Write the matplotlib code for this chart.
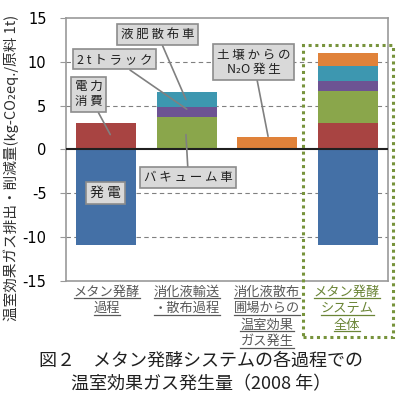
import matplotlib
matplotlib.use("Agg")
import matplotlib.pyplot as plt
from matplotlib.patches import Rectangle
from matplotlib.lines import Line2D
import numpy as np

plt.rcParams['font.family'] = ['Noto Sans CJK JP', 'DejaVu Sans']

# ---- data ----
categories = ["メタン発酵\n過程", "消化液輸送\n・散布過程", "消化液散布\n圃場からの\n温室効果\nガス発生", "メタン発酵\nシステム\n全体"]
series_names = ["発電", "電力消費", "バキューム車", "2tトラック", "液肥散布車", "土壌からのN2O発生"]
power_gen   = [-10.9, 0.0, 0.0, -10.9]
power_use   = [3.0, 0.0, 0.0, 3.0]
vacuum      = [0.0, 3.65, 0.0, 3.65]
truck2t     = [0.0, 1.2, 0.0, 1.2]
spreader    = [0.0, 1.7, 0.0, 1.7]
soil_n2o    = [0.0, 0.0, 1.45, 1.45]
yticks = [15, 10, 5, 0, -5, -10, -15]
colors = ["#4470A6", "#A84442", "#8AA64B", "#6D5393", "#3D97B0", "#E0823A"]

fig = plt.figure(figsize=(4.0, 3.96), dpi=100)
ax = fig.add_axes([0.165, 0.2904, 0.805, 0.6642])
x = np.arange(len(categories))
w = 0.75

ax.bar(x, power_gen, w, color=colors[0], zorder=2)
bottom = np.zeros(len(x))
for vals, c in zip([power_use, vacuum, truck2t, spreader, soil_n2o], colors[1:]):
    v = np.array(vals)
    ax.bar(x, v, w, bottom=bottom, color=c, zorder=2)
    bottom = bottom + v

ax.set_xlim(-0.5, 3.5)
ax.set_ylim(-15, 15)
ax.set_yticks(yticks)
ax.set_yticklabels([str(t) for t in yticks], fontsize=10.5, family=['DejaVu Sans'])
ax.set_xticks([])
for t in [10, 5, -5, -10]:
    ax.axhline(t, color="#808080", lw=0.8, ls=(0, (4, 3)), zorder=1)
ax.axhline(0, color="#202020", lw=1.5, zorder=3)
for s in ax.spines.values():
    s.set_color("#999999")
    s.set_linewidth(1.2)
ax.tick_params(axis='y', length=4, color="#999999", pad=10)

ax.set_ylabel("温室効果ガス排出・削減量(kg-CO₂eq./原料 1t)", fontsize=10.5, labelpad=4,
              family=['Noto Sans CJK JP', 'DejaVu Sans'], color="#303030")
ax.yaxis.set_label_coords(-0.145, 0.43)

# ---- annotations ----
boxprops = dict(boxstyle="square,pad=0.3", fc="#D9D9D9", ec="#8C8C8C", lw=1.2)
def note(text, xy, xytext, fs=9, arrow=True):
    ap = dict(arrowstyle="-", color="#808080", lw=1.2, shrinkA=0, shrinkB=0) if arrow else None
    ax.annotate(text, xy=xy, xytext=xytext, fontsize=fs, ha="center", va="center",
                bbox=boxprops, zorder=5, linespacing=1.2, color="#202020",
                arrowprops=ap)

note("電 力\n消 費", (0.05, 1.7), (-0.22, 6.3))
note("2 t ト ラ ッ ク", (1.0, 4.6), (0.10, 10.3))
note("液 肥 散 布 車", (0.99, 5.7), (0.64, 13.1))
note("バ キ ュ ー ム 車", (0.99, 1.7), (1.02, -3.2))
note("発 電", (-0.01, -5.0), (-0.01, -5.0), fs=10, arrow=False)
note("土 壌 か ら の\nN₂O 発 生", (2.01, 1.5), (1.83, 10.0))

# ---- dotted box ----
fig.add_artist(Rectangle((303/400, 1-337/396), 90/400, 292/396, transform=fig.transFigure,
                         fill=False, ec="#77933C", lw=2.2, ls=(0, (1, 1.2)), zorder=10))

# ---- category labels (underlined) ----
centers_px = [107, 187, 267, 347]
label_colors = ["#595959", "#595959", "#595959", "#6B8537"]
texts = []
for cx, lab, col in zip(centers_px, categories, label_colors):
    for i, line in enumerate(lab.split("\n")):
        ypx = 292 + i * 16.5
        t = fig.text(cx/400, 1 - ypx/396, line, ha="center", va="center", fontsize=9.5,
                     color=col)
        texts.append((t, col))

fig.text(201/400, 1-361/396, "図２　メタン発酵システムの各過程での", ha="center", va="center",
         fontsize=13, color="#202020")
fig.text(201/400, 1-384/396, "温室効果ガス発生量（2008 年）", ha="center", va="center",
         fontsize=13, color="#202020")

fig.canvas.draw()
r = fig.canvas.get_renderer()
for t, col in texts:
    bb = t.get_window_extent(renderer=r)
    yy = bb.y0 + 0.5
    fig.add_artist(Line2D([bb.x0/400, bb.x1/400], [yy/396, yy/396], transform=fig.transFigure,
                          color=col, lw=0.9))

fig.savefig("out.png", dpi=100)
